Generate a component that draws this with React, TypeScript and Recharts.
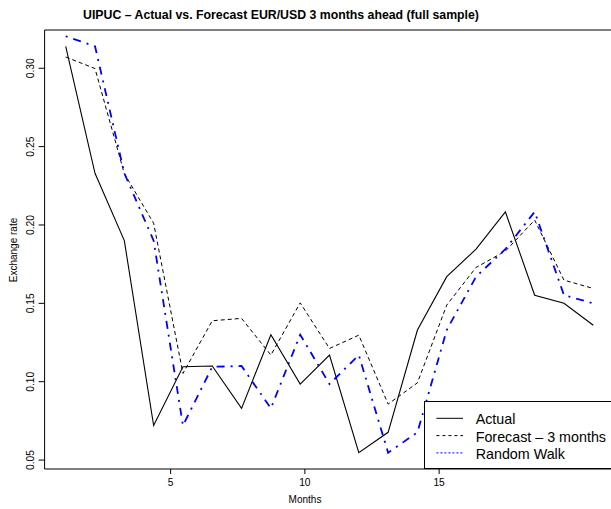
import { LineChart, Line, XAxis, YAxis, ReferenceArea, Legend } from 'recharts'

const MONTHS = [1, 2, 3, 4, 5, 6, 7, 8, 9, 10, 11, 12, 13, 14, 15, 16, 17, 18, 19]
const ACTUAL = [0.314, 0.233, 0.19, 0.072, 0.1095, 0.11, 0.083, 0.13, 0.0985, 0.117, 0.0547, 0.0677, 0.133, 0.167, 0.1846, 0.2084, 0.1552, 0.15, 0.136]
const FORECAST = [0.3072, 0.2998, 0.2328, 0.2011, 0.1053, 0.1389, 0.1404, 0.117, 0.1503, 0.1212, 0.1297, 0.0857, 0.0993, 0.1489, 0.1729, 0.1833, 0.2031, 0.1648, 0.1595]
const RANDOM_WALK = [0.3204, 0.314, 0.233, 0.19, 0.072, 0.1095, 0.11, 0.083, 0.13, 0.0985, 0.117, 0.0547, 0.0677, 0.133, 0.167, 0.1846, 0.2084, 0.1552, 0.15]

// the axis labels in the original sit off the data index
const X_TICKS = [4.58, 9.16, 13.74]
const X_TICK_LABELS = ['5', '10', '15']
const Y_TICKS = [0.05, 0.1, 0.15, 0.2, 0.25, 0.3]
const X_DOMAIN = [0.28, 19.72]
const Y_DOMAIN = [0.0443, 0.3244]

const FONT = '"Liberation Sans", Arial, Helvetica, sans-serif'

const data = MONTHS.map((m, i) => ({
  month: m,
  actual: ACTUAL[i],
  forecast: FORECAST[i],
  rw: RANDOM_WALK[i],
}))

const LEGEND_STYLE: Record<string, { color: string; dash?: string }> = {
  Actual: { color: '#000' },
  'Forecast – 3 months': { color: '#000', dash: '3 3' },
  'Random Walk': { color: '#0000ff', dash: '2 2' },
}

function YTick(props: any) {
  const { x, y, payload } = props
  return (
    <text
      x={x}
      y={y}
      transform={`rotate(-90 ${x} ${y})`}
      textAnchor="middle"
      fontSize={10.3}
      fontFamily={FONT}
      fill="#000"
    >
      {payload.value.toFixed(2)}
    </text>
  )
}

function LegendBox(props: any) {
  const items = props.payload || []
  return (
    <div style={{ width: 200, height: 68, border: '1px solid #000', background: '#fff', boxSizing: 'border-box' }}>
      <svg width={200} height={68} style={{ display: 'block', marginTop: -1, marginLeft: -1 }}>
        {items.map((it: any, i: number) => {
          const st = LEGEND_STYLE[it.value] || { color: it.color }
          const cy = 17.3 + i * 17.3
          return (
            <g key={it.value}>
              <line x1={12.4} x2={39} y1={cy} y2={cy} stroke={st.color} strokeWidth={1} strokeDasharray={st.dash} />
              <text x={51.7} y={cy + 6} fontSize={14.3} fontFamily={FONT} fill="#000">
                {it.value}
              </text>
            </g>
          )
        })}
      </svg>
    </div>
  )
}

export default function App() {
  return (
    <div style={{ position: 'absolute', left: 0, top: 0, width: 611, height: 509, overflow: 'hidden', background: '#fff' }}>
      <div
        style={{
          position: 'absolute',
          left: 281,
          top: 19.6 - 0.8465 * 12.3,
          transform: 'translateX(-50%)',
          whiteSpace: 'nowrap',
          fontFamily: FONT,
          fontWeight: 'bold',
          fontSize: 12.3,
          lineHeight: '12.3px',
        }}
      >
        UIPUC – Actual vs. Forecast EUR/USD 3 months ahead (full sample)
      </div>
      <div
        style={{
          position: 'absolute',
          left: 305,
          top: 503 - 0.8465 * 10,
          transform: 'translateX(-50%)',
          whiteSpace: 'nowrap',
          fontFamily: FONT,
          fontSize: 10,
          lineHeight: '10px',
        }}
      >
        Months
      </div>
      <svg width={30} height={509} style={{ position: 'absolute', left: 0, top: 0 }}>
        <text
          x={16.5}
          y={250}
          transform="rotate(-90 16.5 250)"
          textAnchor="middle"
          fontSize={10}
          fontFamily={FONT}
          fill="#000"
        >
          Exchange rate
        </text>
      </svg>
      <LineChart width={615} height={509} data={data} margin={{ top: 30, right: 0.6, bottom: 0, left: 0 }}>
        <XAxis
          dataKey="month"
          type="number"
          domain={X_DOMAIN}
          ticks={X_TICKS}
          tickFormatter={(_v: number, i: number) => X_TICK_LABELS[i]}
          allowDataOverflow
          height={40}
          axisLine={false}
          tickSize={5}
          tickMargin={4.5}
          tickLine={{ stroke: '#000' }}
          tick={{ fontSize: 10.2, fill: '#000', fontFamily: FONT }}
        />
        <YAxis
          type="number"
          domain={Y_DOMAIN}
          ticks={Y_TICKS}
          allowDataOverflow
          width={44.6}
          axisLine={false}
          tickSize={6}
          tickMargin={4.3}
          tickLine={{ stroke: '#000' }}
          tick={YTick}
        />
        <ReferenceArea
          x1={X_DOMAIN[0]}
          x2={X_DOMAIN[1]}
          y1={Y_DOMAIN[0]}
          y2={Y_DOMAIN[1]}
          fill="none"
          fillOpacity={0}
          stroke="#000"
          strokeWidth={1}
        />
        <Line
          name="Actual"
          dataKey="actual"
          type="linear"
          stroke="#000"
          strokeWidth={1.1}
          dot={false}
          isAnimationActive={false}
        />
        <Line
          name="Forecast – 3 months"
          dataKey="forecast"
          type="linear"
          stroke="#000"
          strokeWidth={1}
          strokeDasharray="4 3"
          dot={false}
          isAnimationActive={false}
        />
        <Line
          name="Random Walk"
          dataKey="rw"
          type="linear"
          stroke="#0000ff"
          strokeWidth={1.8}
          strokeDasharray="2 6 8 6"
          dot={false}
          isAnimationActive={false}
        />
        <Legend
          layout="horizontal"
          verticalAlign="middle"
          align="center"
          content={LegendBox}
          wrapperStyle={{ left: 424.3, top: 400.7, width: 200, height: 68 }}
        />
      </LineChart>
    </div>
  )
}
